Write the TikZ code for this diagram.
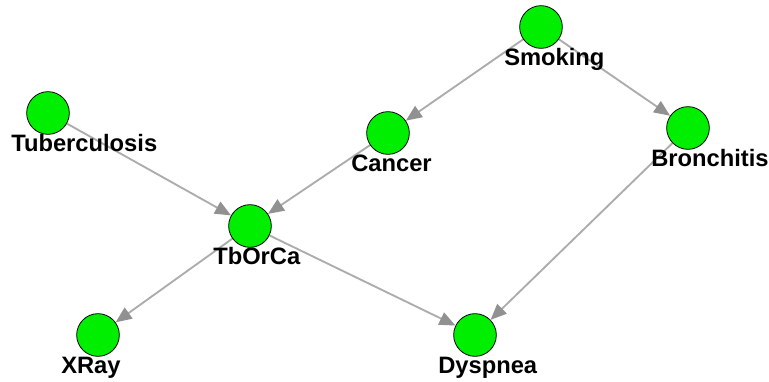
\documentclass[tikz,border=0pt]{standalone}
\usepackage{fontspec}
\usepackage{tikz}
\usetikzlibrary{calc}
\usetikzlibrary{arrows.meta}
\usetikzlibrary{backgrounds}
\newfontfamily\netfont{Liberation Sans}
\definecolor{nodegreen}{RGB}{0,238,0}
\definecolor{edgegray}{RGB}{172,172,172}
\definecolor{tipgray}{RGB}{145,145,145}
\newcommand{\picsizex}{769}
\newcommand{\picsizey}{382}
\newcommand{\labeldx}{-37}
\newcommand{\labeldy}{38}
\newcommand{\bnnode}[4]{
  \node[varnode] (#1) at (#2,#3) {};
  \node[varlabel] (#1label) at ($(#1.center)+(\labeldx,\labeldy)$) {#4};
}
\tikzset{
  varnode/.style={circle, draw=black, line width=0.6pt, fill=nodegreen,
    minimum size=32pt, inner sep=0pt},
  varlabel/.style={anchor=base west, inner sep=0pt,
    font=\netfont\bfseries\fontsize{17.8}{20}\selectfont},
  dep/.style={draw=edgegray, line width=1.4pt,
    -{Triangle[length=12pt, width=10pt, color=tipgray, fill=tipgray]}}
}

\begin{document}
\begin{tikzpicture}[x=0.75pt, y=-0.75pt]
    \useasboundingbox (0,0) rectangle (\picsizex,\picsizey);
    % variables
    \bnnode{smoking}{541}{27}{Smoking}
    \bnnode{bronchitis}{688}{128}{Bronchitis}
    \bnnode{cancer}{388}{133}{Cancer}
    \bnnode{tuberculosis}{48}{113}{Tuberculosis}
    \bnnode{tborca}{250}{226}{TbOrCa}
    \bnnode{xray}{98}{335}{XRay}
    \bnnode{dyspnea}{475}{335}{Dyspnea}

    \begin{scope}[on background layer]
      % dependencies
      \draw[dep] (smoking) -- (cancer);
      \draw[dep] (smoking) -- (bronchitis);
      \draw[dep] (tuberculosis) -- (tborca);
      \draw[dep] (cancer) -- (tborca);
      \draw[dep] (tborca) -- (xray);
      \draw[dep] (tborca) -- (dyspnea);
      \draw[dep] (bronchitis) -- (dyspnea);
    \end{scope}
  \end{tikzpicture}
\end{document}
